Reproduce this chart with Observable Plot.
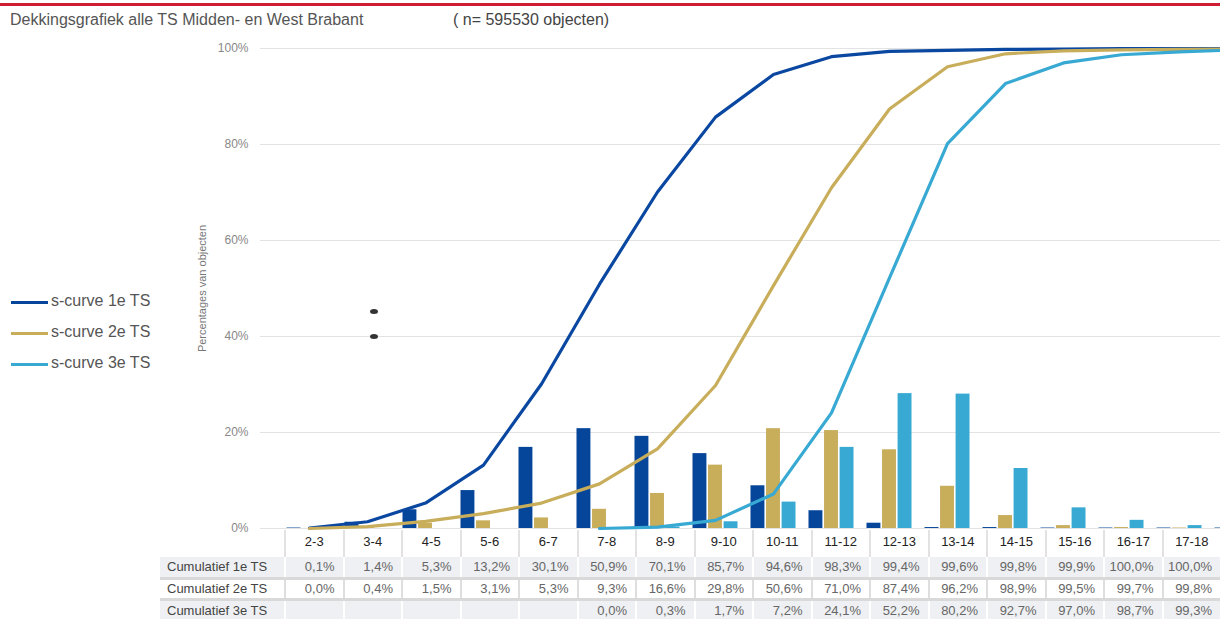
<!DOCTYPE html>
<html><head><meta charset="utf-8">
<script src="https://cdn.jsdelivr.net/npm/d3@7"></script>
<script src="https://cdn.jsdelivr.net/npm/@observablehq/plot@0.6"></script>
<style>
html,body{margin:0;padding:0;width:1220px;height:619px;overflow:hidden;background:#fff;font-family:"Liberation Sans",Arial,sans-serif;}
#wrap{position:relative;width:1220px;height:619px;overflow:hidden;}
#redline{position:absolute;left:0;top:3px;width:1220px;height:3px;background:#cf1d34;}
#title{position:absolute;left:10px;top:11px;font-size:16px;color:#555;white-space:nowrap;}
#ntext{position:absolute;left:453px;top:11px;font-size:16px;color:#444;white-space:nowrap;}
#chart{position:absolute;left:0;top:0;width:1270px;}
#chart svg{max-width:none !important;}
#legend{position:absolute;left:10px;top:291px;}
.li{position:absolute;left:0;height:22px;white-space:nowrap;font-size:16px;color:#555;}
.li span.sw{position:absolute;left:1px;top:10px;width:37px;height:3px;}
.li span.lb{position:absolute;left:41px;top:1px;}
.cell{position:absolute;box-sizing:border-box;font-size:13px;white-space:nowrap;}
.blob{position:absolute;width:8px;height:5px;border-radius:50%;background:#333;}
</style></head><body><div id="wrap">
<div id="redline"></div>
<div id="title">Dekkingsgrafiek alle TS Midden- en West Brabant</div>
<div id="ntext">( n= 595530 objecten)</div>
<div id="chart"></div>
<div id="legend"></div>
<div id="table"></div>
<div class="blob" style="left:370px;top:309px;"></div>
<div class="blob" style="left:370px;top:334px;"></div>
</div>
<script>
// ---- data ----
const categories = ["2-3","3-4","4-5","5-6","6-7","7-8","8-9","9-10","10-11","11-12","12-13","13-14","14-15","15-16","16-17","17-18","18-19"];
const tableCategories = ["2-3","3-4","4-5","5-6","6-7","7-8","8-9","9-10","10-11","11-12","12-13","13-14","14-15","15-16","16-17","17-18"];
const seriesNames = ["s-curve 1e TS","s-curve 2e TS","s-curve 3e TS"];
const rowLabels = ["Cumulatief 1e TS","Cumulatief 2e TS","Cumulatief 3e TS"];
const colors = ["#05459a","#c8ad5b","#37a9d3"];
// per-bin shares (bars), %
const bins1 = [0.1,1.3,3.9,7.9,16.9,20.8,19.2,15.6,8.9,3.7,1.1,0.2,0.2,0.1,0.1,0.1,0.1];
const bins2 = [0.0,0.4,1.1,1.6,2.2,4.0,7.3,13.2,20.8,20.4,16.4,8.8,2.7,0.6,0.2,0.1,0.1];
const bins3 = [null,null,null,null,null,0.0,0.3,1.4,5.5,16.9,28.1,28.0,12.5,4.3,1.7,0.6,0.4];
// cumulative (s-curves), %
const cum1 = [0.1,1.4,5.3,13.2,30.1,50.9,70.1,85.7,94.6,98.3,99.4,99.6,99.8,99.9,100.0,100.0,100.0];
const cum2 = [0.0,0.4,1.5,3.1,5.3,9.3,16.6,29.8,50.6,71.0,87.4,96.2,98.9,99.5,99.7,99.8,99.9];
const cum3 = [null,null,null,null,null,0.0,0.3,1.7,7.2,24.1,52.2,80.2,92.7,97.0,98.7,99.3,99.7];
const yTicks = [0,20,40,60,80,100];

// ---- build tables ----
const binsAll = [bins1,bins2,bins3];
const cumAll = [cum1,cum2,cum3];
const barData = [0,1,2].map(s => categories.map((c,i)=>({cat:c, v:binsAll[s][i]})).filter(d=>d.v!=null));
const lineData = [0,1,2].map(s => categories.map((c,i)=>({cat:c, v:cumAll[s][i]})).filter(d=>d.v!=null));

const step = 58.3;
const bw = step*0.8;
const insets = [[0, bw*2/3],[bw/3, bw/3],[bw*2/3, 0]];
const lineColors = ["#0a47a0","#c8ad5b","#37a9d3"];

const chart = Plot.plot({
  width: 1270, height: 540,
  marginTop: 48, marginBottom: 12, marginLeft: 260, marginRight: 0,
  style: {fontFamily: "Liberation Sans, Arial, sans-serif", fontSize: "12px", color: "#888", background: "transparent", maxWidth: "none"},
  x: {type: "band", domain: categories, range: [277.45, 277.45 + step*categories.length], paddingInner: 0.2, paddingOuter: 0.1, axis: null},
  y: {domain: [0,100], ticks: yTicks, tickFormat: d => d + "%", tickSize: 0, tickPadding: 12,
      label: "Percentages van objecten", labelAnchor: "center", labelOffset: 62, labelArrow: "none"},
  marks: [
    Plot.ruleY(yTicks, {stroke: "#e3e3e3", strokeWidth: 1}),
    ...[0,1,2].map(s => Plot.barY(barData[s], {x: "cat", y: "v", fill: colors[s], insetLeft: insets[s][0] + 0.5, insetRight: insets[s][1] + 0.5})),
    ...[0,1,2].map(s => Plot.lineY(lineData[s], {x: "cat", y: "v", stroke: lineColors[s], strokeWidth: 3.2, strokeLinejoin: "round"}))
  ]
});
chart.style.maxWidth = "none";
chart.querySelectorAll('g[aria-label="y-axis label"] text').forEach(t => { t.setAttribute("fill", "#777"); t.style.fontSize = "11px"; });
document.getElementById("chart").appendChild(chart);

// legend
const lg = document.getElementById("legend");
seriesNames.forEach((n,i) => {
  const d = document.createElement("div");
  d.className = "li"; d.style.top = (i*31) + "px";
  d.innerHTML = `<span class="sw" style="background:${colors[i]}"></span><span class="lb">${n}</span>`;
  lg.appendChild(d);
});

// data table
const tb = document.getElementById("table");
const fmt = v => v == null ? "" : v.toFixed(1).replace(".", ",") + "%";
const colX0 = 284, colW = 58.5, labX0 = 160;
function add(left, top, w, h, html, css) {
  const d = document.createElement("div");
  d.className = "cell";
  Object.assign(d.style, {left: left+"px", top: top+"px", width: w+"px", height: h+"px", lineHeight: h+"px"}, css || {});
  d.innerHTML = html; tb.appendChild(d);
}
// header
tableCategories.forEach((c,i) => add(colX0 + i*colW, 530, colW, 27, c, {textAlign: "center", color: "#222", borderLeft: "2px solid #e2e2e2", lineHeight: "24px"}));
const rows = [{top:557,h:20,bg:"#eef0f3",sep:"#ffffff"},{top:580,h:18,bg:"#ffffff",sep:"#dedede"},{top:601,h:19,bg:"#eef0f3",sep:"#ffffff"}];
// separators
add(labX0, 577, 1220-labX0, 3, "", {background: "#d9d9d9"});
add(labX0, 598, 1220-labX0, 3, "", {background: "#d9d9d9"});
rows.forEach((r,ri) => {
  add(labX0, r.top, colX0-labX0, r.h, rowLabels[ri], {background: r.bg, color: "#444", paddingLeft: "7px"});
  tableCategories.forEach((c,i) => add(colX0 + i*colW, r.top, colW, r.h, fmt(cumAll[ri][i]),
    {background: r.bg, color: "#666", textAlign: "right", paddingRight: "8px", borderLeft: "2px solid " + r.sep}));
});
</script>
</body></html>
